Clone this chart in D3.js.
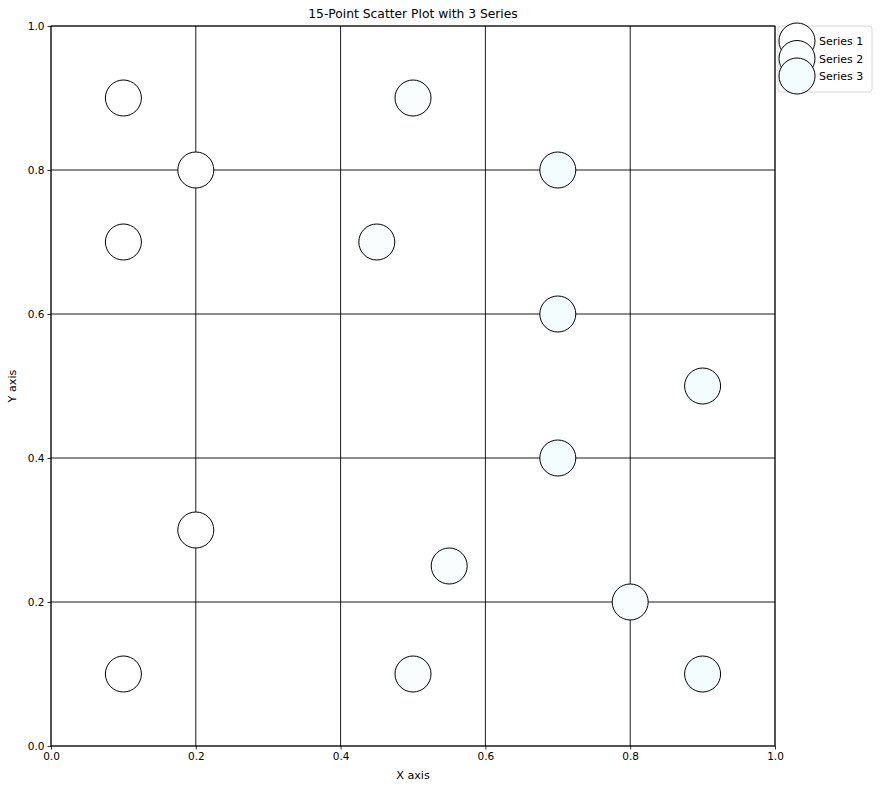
<!DOCTYPE html>
<html>
<head>
<meta charset="utf-8">
<script src="https://cdn.jsdelivr.net/npm/d3@7"></script>
<style>
  body { margin: 0; background: #fff; }
  svg { font-family: "DejaVu Sans", sans-serif; }
</style>
</head>
<body>
<div id="wrapper"></div>
<script>
// data
const seriesNames = ["Series 1", "Series 2", "Series 3"];
const seriesColors = ["#ffffff", "#f9fdfd", "#f3fdfd"];
const series1 = [[0.1, 0.9], [0.2, 0.8], [0.1, 0.7], [0.2, 0.3], [0.1, 0.1]];
const series2 = [[0.5, 0.9], [0.45, 0.7], [0.55, 0.25], [0.5, 0.1], [0.8, 0.2]];
const series3 = [[0.7, 0.8], [0.7, 0.6], [0.9, 0.5], [0.7, 0.4], [0.9, 0.1]];
const tickValues = [0, 0.2, 0.4, 0.6, 0.8, 1.0];

const width = 880, height = 790;
const margin = { top: 26, right: 105, bottom: 44, left: 51 };
const pw = width - margin.left - margin.right;
const ph = height - margin.top - margin.bottom;
const r = 18;

const svg = d3.select("#wrapper").append("svg")
  .attr("width", width)
  .attr("height", height);

const x = d3.scaleLinear().domain([0, 1]).range([margin.left, margin.left + pw]);
const y = d3.scaleLinear().domain([0, 1]).range([margin.top + ph, margin.top]);

// grid
const grid = svg.append("g");
grid.selectAll("line.v").data(tickValues).enter().append("line")
  .attr("x1", d => x(d)).attr("x2", d => x(d))
  .attr("y1", y(0)).attr("y2", y(1))
  .attr("stroke", "#000").attr("stroke-width", 0.9);
grid.selectAll("line.h").data(tickValues).enter().append("line")
  .attr("y1", d => y(d)).attr("y2", d => y(d))
  .attr("x1", x(0)).attr("x2", x(1))
  .attr("stroke", "#000").attr("stroke-width", 0.9);

// axes
const fmt = d3.format(".1f");
const xAxis = svg.append("g")
  .attr("transform", `translate(0,${y(0)})`)
  .call(d3.axisBottom(x).tickValues(tickValues).tickFormat(fmt).tickSize(3.5).tickPadding(3));
const yAxis = svg.append("g")
  .attr("transform", `translate(${x(0)},0)`)
  .call(d3.axisLeft(y).tickValues(tickValues).tickFormat(fmt).tickSize(3.5).tickPadding(3));
[xAxis, yAxis].forEach(a => {
  a.select(".domain").remove();
  a.selectAll("text").attr("font-size", 10.5).attr("fill", "#000").attr("font-family", "DejaVu Sans");
  a.selectAll(".tick line").attr("stroke", "#000").attr("stroke-width", 0.8);
});

// frame
svg.append("rect")
  .attr("x", x(0)).attr("y", y(1))
  .attr("width", pw).attr("height", ph)
  .attr("fill", "none").attr("stroke", "#000").attr("stroke-width", 0.8);

// points
const allSeries = [series1, series2, series3];
allSeries.forEach((pts, i) => {
  svg.append("g").selectAll("circle")
    .data(pts).enter().append("circle")
    .attr("cx", d => x(d[0]))
    .attr("cy", d => y(d[1]))
    .attr("r", r)
    .attr("fill", seriesColors[i])
    .attr("stroke", "#000")
    .attr("stroke-width", 1);
});

// title and labels
svg.append("text")
  .attr("x", margin.left + pw / 2).attr("y", 18)
  .attr("text-anchor", "middle").attr("font-size", 12.3)
  .text("15-Point Scatter Plot with 3 Series");
svg.append("text")
  .attr("x", margin.left + pw / 2).attr("y", 779)
  .attr("text-anchor", "middle").attr("font-size", 11.2)
  .text("X axis");
svg.append("text")
  .attr("transform", `translate(16,${margin.top + ph / 2}) rotate(-90)`)
  .attr("text-anchor", "middle").attr("font-size", 11.2)
  .text("Y axis");

// legend
const lg = svg.append("g").attr("transform", `translate(${x(1) + 3},${margin.top})`);
lg.append("rect")
  .attr("x", 0).attr("y", 0).attr("width", 94).attr("height", 66)
  .attr("rx", 3)
  .attr("fill", "#fff").attr("fill-opacity", 0.8)
  .attr("stroke", "#ccc").attr("stroke-width", 0.8);
seriesNames.forEach((name, i) => {
  const cy = 15 + i * 17.5;
  lg.append("circle")
    .attr("cx", 19).attr("cy", cy).attr("r", r)
    .attr("fill", seriesColors[i]).attr("stroke", "#000").attr("stroke-width", 1);
});
seriesNames.forEach((name, i) => {
  const cy = 15 + i * 17.5;
  lg.append("text")
    .attr("x", 41).attr("y", cy + 4)
    .attr("font-size", 11)
    .text(name);
});
</script>
</body>
</html>
